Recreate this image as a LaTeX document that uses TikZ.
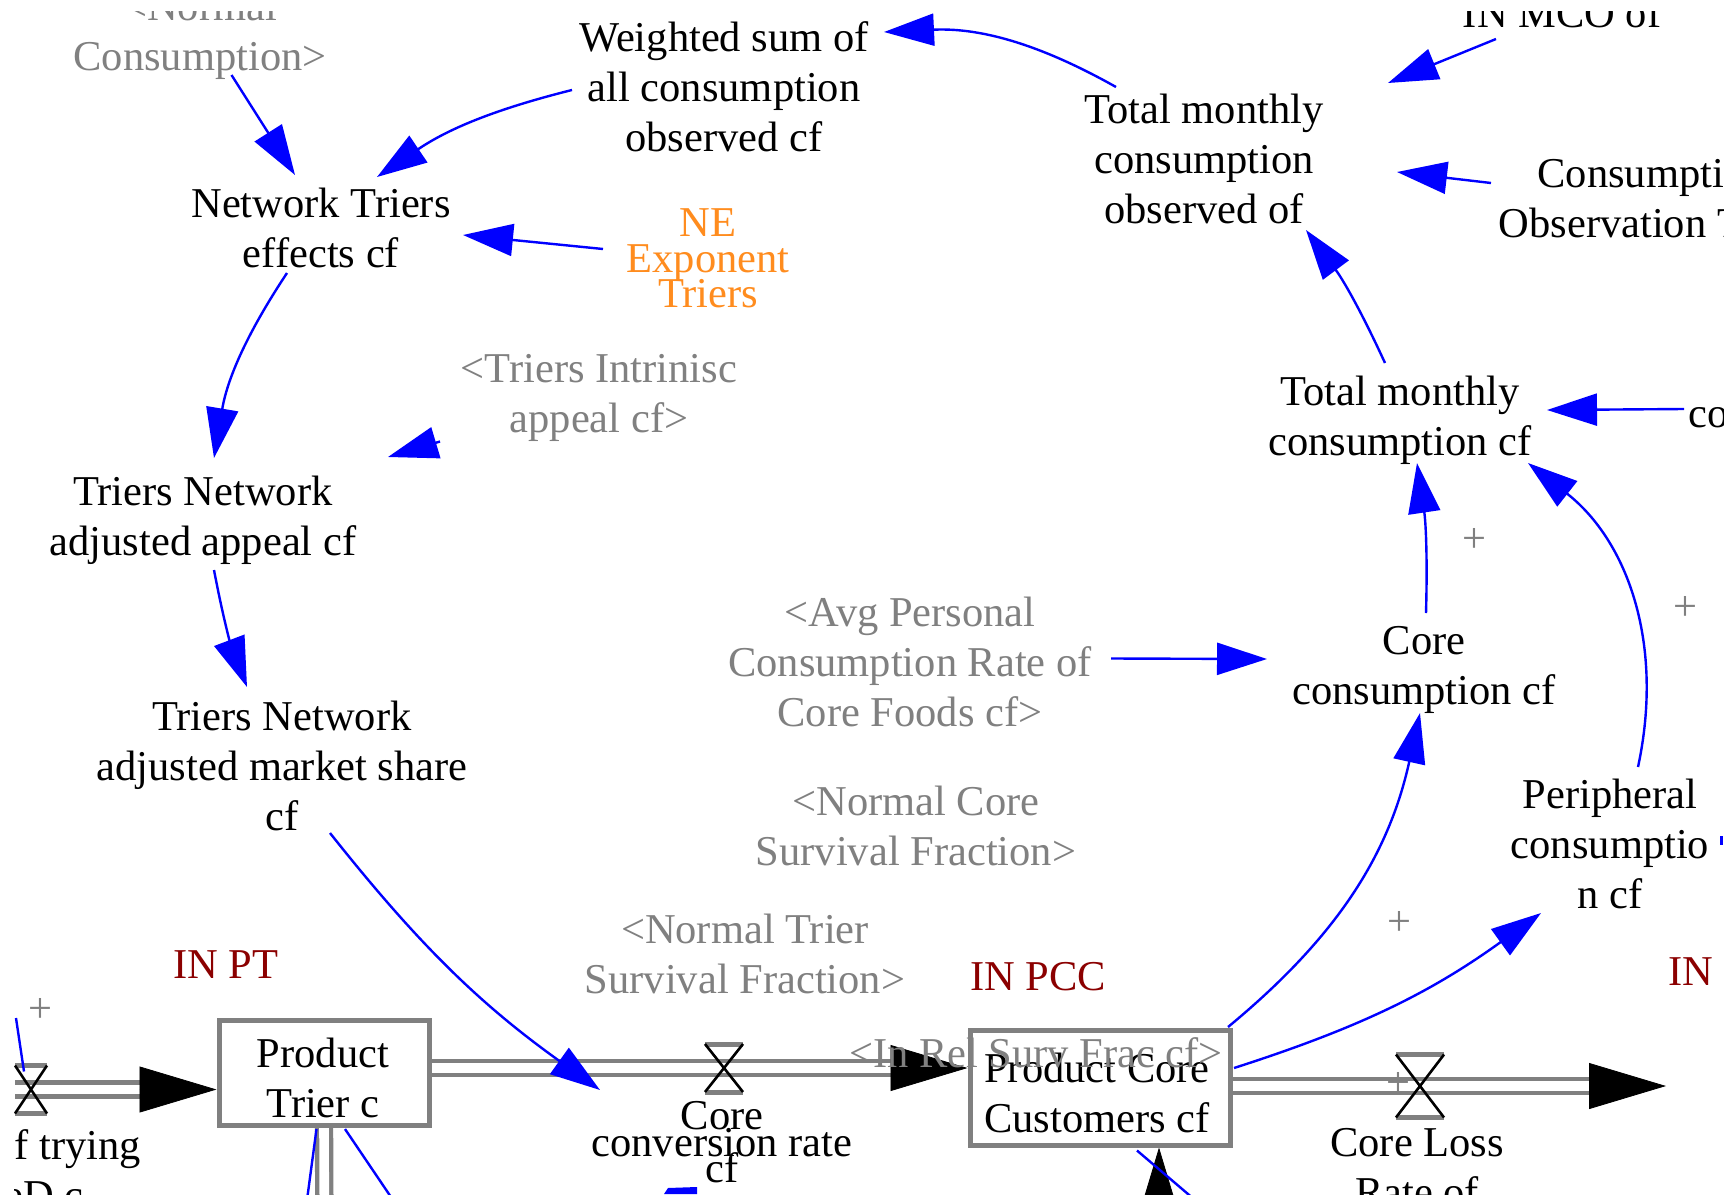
\documentclass[tikz,border=0pt]{standalone}
\usepackage{fontspec}
\setmainfont{Liberation Serif}
\usetikzlibrary{arrows.meta,calc}

\definecolor{linkblue}{RGB}{0,0,255}
\definecolor{shadowgray}{RGB}{128,128,128}
\definecolor{pipegray}{RGB}{128,128,128}
\definecolor{constorange}{RGB}{255,140,30}
\definecolor{inred}{RGB}{139,0,0}

\tikzset{
  var/.style={align=center, inner sep=0pt,
    font=\fontsize{21.25pt}{25pt}\selectfont},
  shadowvar/.style={var, text=shadowgray},
  constvar/.style={align=center, inner sep=0pt, text=constorange,
    font=\fontsize{21.25pt}{17.75pt}\selectfont},
  tightvar/.style={align=center, inner sep=0pt,
    font=\fontsize{21.25pt}{13.25pt}\selectfont},
  tagvar/.style={var, text=inred},
  polarity/.style={var, text=shadowgray},
  link/.style={draw=linkblue, line width=1.2pt,
    -{Triangle[length=25pt,width=16pt]}},
  linkline/.style={draw=linkblue, line width=1.2pt},
  pipe/.style={draw=pipegray, line width=2.2pt, double=white,
    double distance=4.8pt},
  flowtip/.style={draw=black, fill=black, line width=0.4pt,
    -{Triangle[length=38.5pt,width=23pt]}},
  stock/.style={draw=pipegray, line width=2.5pt, fill=white, inner sep=0pt},
}

% hourglass valve: centre, half width, half height
\newcommand\drawvalve[3]{%
  \draw[pipegray, line width=2.5pt]
    ($(#1)+(-#2,-#3)$) -- ($(#1)+(#2,-#3)$)
    ($(#1)+(-#2,#3)$) -- ($(#1)+(#2,#3)$);
  \draw[black, line width=1.3pt]
    ($(#1)+(-#2,-#3)$) -- ($(#1)+(#2,#3)$)
    ($(#1)+(#2,-#3)$) -- ($(#1)+(-#2,#3)$);
}

\begin{document}
\lineskiplimit=-50pt
\begin{tikzpicture}[x=0.5pt, y=-0.5pt]
\useasboundingbox (0,0) rectangle (1734,1194);
\fill[white] (0,0) rectangle (1734,1194);

\begin{scope}
% visible window of the model view
\clip (14,11) rectangle (1723,1194);

% ---------- stocks and valves ----------
\node[stock, minimum width=105pt, minimum height=52.5pt] (PT) at (324,1073) {};
\node[stock, minimum width=130pt, minimum height=57.5pt] (PCC) at (1100,1087.5) {};

\coordinate (TryV) at (31,1089.5);
\coordinate (CCRV) at (724,1068);
\coordinate (LossV) at (1420,1086);
\coordinate (LossSink) at (1666,1086);
\coordinate (PTdown) at (324.5,1240);
\coordinate (PCCsrc) at (1159,1300);

% ---------- pipes ----------
\draw[pipe] ($(TryV)+(-16,0)$) -- ($(TryV -| PT.west)+(-77,0)$);
\draw[flowtip] ($(TryV -| PT.west)+(-77,0)$) -- (TryV -| PT.west);

\draw[pipe] (CCRV -| PT.east) -- ($(CCRV -| PCC.west)+(-77,0)$);
\draw[flowtip] ($(CCRV -| PCC.west)+(-77,0)$) -- (CCRV -| PCC.west);

\draw[pipe] (LossV -| PCC.east) -- ($(LossSink)+(-77,0)$);
\draw[flowtip] ($(LossSink)+(-77,0)$) -- (LossSink);

\draw[pipe] (PT.south) -- (PTdown);

\draw[pipe] (PCCsrc) -- ($(PCCsrc |- PCC.south)+(0,77)$);
\draw[flowtip] ($(PCCsrc |- PCC.south)+(0,77)$) -- (PCCsrc |- PCC.south);

% redraw stock outlines over pipe ends
\node[stock, minimum width=105pt, minimum height=52.5pt] (PTframe) at (PT) {};
\node[stock, minimum width=130pt, minimum height=57.5pt] (PCCframe) at (PCC) {};

\drawvalve{TryV}{16}{24}
\drawvalve{CCRV}{19}{24}
\drawvalve{LossV}{24}{31.5}

% ---------- variables ----------
\node[shadowvar] (NormCons) at (200,35) {<Normal\\Consumption>};
\node[var] (Weighted) at (724,86.5) {Weighted sum of\\all consumption\\observed cf};
\node[var] (NetTriers) at (321,227.5) {Network Triers\\effects cf};
\node[constvar] (NE) at (708,258.5) {NE\\Exponent\\Triers};
\node[shadowvar] (Intrinsic) at (599,398) {<Triers Intrinisc\\appeal cf>};
\node[var] (TNAA) at (203,520) {Triers Network\\adjusted appeal cf};
\node[var] (TNAMS) at (282,765.5) {Triers Network\\adjusted market share\\cf};
\node[var] (TMCO) at (1204,158.5) {Total monthly\\consumption\\observed of};
\node[var, anchor=base] (INMCO) at (1562,27) {IN MCO of};
\node[var] (ConsObs) at (1652,198.5) {Consumption\\Observation Time};
\node[var] (TMC) at (1400,420) {Total monthly\\consumption cf};
\node[var, anchor=base west] (Co) at (1688,427) {co};
\node[var] (CoreCons) at (1424,670) {Core\\consumption cf};
\node[shadowvar] (AvgPers) at (910,661.5) {<Avg Personal\\Consumption Rate of\\Core Foods cf>};
\node[shadowvar] (NormCore) at (916,825.5) {<Normal Core\\Survival Fraction>};
\node[shadowvar] (NormTrier) at (745,953.5) {<Normal Trier\\Survival Fraction>};
\node[var] (Periph) at (1610,843.5) {Peripheral\\consumptio\\n cf};

\node[tagvar, anchor=base] (INPT) at (226,978) {IN PT};
\node[tagvar, anchor=base] (INPCC) at (1038,990) {IN PCC};
\node[tagvar, anchor=base west] (INrest) at (1668,985) {IN};

\node[var] (PTtext) at (323,1078) {Product\\Trier c};
\node[var] (PCCtext) at (1097,1092.5) {Product Core\\Customers cf};

\node[tightvar] (CCRlbl) at (722,1142.5) {Core\\conversion rate\\cf};
\node[var] (LossLbl) at (1417,1167.5) {Core Loss\\Rate of};
\node[var] (TryLbl) at (23,1170) {Rate of trying\\oneD c};

% polarity marks
\node[polarity] (pol1) at (1474,540) {+};
\node[polarity] (pol2) at (1685,608) {+};
\node[polarity] (pol3) at (1399,923) {+};
\node[polarity] (pol4) at (40,1010) {+};
\node[polarity] (pol5) at (1398,1084) {+};

% ---------- causal links ----------
\draw[link] ($(NormCons)+(31.5,40)$) -- ($(NetTriers)+(-26,-52.5)$);
\draw[link] ($(Weighted)+(-152,3.5)$) to[bend right=10] ($(NetTriers)+(56,-50.5)$);
\draw[link] ($(TMCO)+(-88,-71.5)$) to[bend right=16] ($(Weighted)+(160,-54.5)$);
\draw[link] ($(NE)+(-105,-9.5)$) -- ($(NetTriers)+(142,7.5)$);
\draw[link] ($(NetTriers)+(-34,45.5)$) to[bend right=12] ($(TNAA)+(11,-62)$);
\draw[link] ($(Intrinsic)+(-159,43.5)$) -- ($(TNAA)+(185,-63)$);
\draw[link] ($(TNAA)+(11,50)$) to[bend right=5] ($(TNAMS)+(-35,-78.5)$);
\draw[link] ($(TNAMS)+(48,67.5)$) to[bend right=8] ($(CCRV)+(-124,22)$);
\draw[link] ($(TMC)+(-15,-57)$) to[bend right=6] ($(TMCO)+(102,71.5)$);
\draw[link] ($(CoreCons)+(2,-57)$) to[bend right=5] ($(TMC)+(17,43)$);
\draw[link] ($(Periph)+(28,-76.5)$) to[bend right=32] ($(TMC)+(128,43)$);
\draw[link] ($(Co.base west)+(-4,-18)$) -- ($(TMC)+(147,-10)$);
\draw[link] ($(AvgPers)+(201,-3)$) -- ($(CoreCons)+(-157,-11)$);
\draw[link] ($(PCC)+(128,-60.5)$) to[bend right=19] ($(CoreCons)+(-4,43)$);
\draw[link] ($(PCC)+(134,-19.5)$) to[bend right=9] ($(Periph)+(-69,69.5)$);
\draw[link] ($(INMCO.base)+(-66,12)$) -- ($(TMCO)+(184,-75.5)$);
\draw[link] ($(ConsObs)+(-161,-15.5)$) -- ($(TMCO)+(193,13.5)$);

% links leaving the window
\coordinate (TryLinkTop) at (16,1018);
\coordinate (PTlinkA) at (307,1200);
\coordinate (PTlinkB) at (393,1200);
\coordinate (PCClinkEnd) at (1195,1200);
\coordinate (EdgeDot) at (1721,836);
\draw[linkline] (TryLinkTop) -- ($(TryV)+(-7,-18)$);
\draw[linkline] ($(PT.south)+(-7.5,1)$) -- (PTlinkA);
\draw[linkline] ($(PT.south)+(21,1)$) -- (PTlinkB);
\draw[linkline] ($(PCC.south)+(37,3)$) -- (PCClinkEnd);
\draw[linkline, line width=1.5pt] (EdgeDot) -- ++(0,9);
\fill[linkblue] (664,1194) -- (668,1188) -- (697,1187) -- (697,1194) -- cycle;

% shadow label lying over the stock
\node[shadowvar, anchor=base] (InRel) at (1036,1067) {<In Rel Surv Frac cf>};
\end{scope}
\end{tikzpicture}
\end{document}
